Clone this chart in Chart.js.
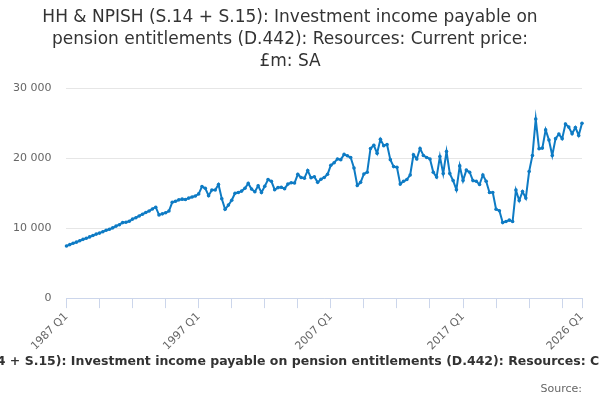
<!DOCTYPE html>
<html>
<head>
<meta charset="utf-8">
<script src="https://cdn.jsdelivr.net/npm/chart.js@4"></script>
<style>
html,body{margin:0;padding:0;background:#fff;}
#wrap{width:600px;height:400px;position:relative;}
</style>
</head>
<body>
<div id="wrap"><canvas id="c"></canvas></div>
<script>
const titleLines = ["HH & NPISH (S.14 + S.15): Investment income payable on", "pension entitlements (D.442): Resources: Current price:", "£m: SA"];
const axisTitle = "HH & NPISH (S.14 + S.15): Investment income payable on pension entitlements (D.442): Resources: Current price: £m: SA";
const sourceText = "Source:";
const startYear = 1987;
const endYear = 2026;
const yTicks = [0, 10000, 20000, 30000];
const values = [
  7450, 7650, 7850, 8000, 8200, 8400, 8550, 8750, 8950, 9150,
  9300, 9500, 9700, 9850, 10050, 10300, 10500, 10800, 10850, 11000,
  11300, 11500, 11750, 12000, 12250, 12450, 12750, 13000,
  11900, 12050, 12200, 12450, 13700, 13850, 14050, 14150, 14100, 14300, 14450, 14600, 14900,
  15950, 15700, 14650, 15450, 15450, 16250, 14200, 12700, 13300, 14000, 15000, 15100, 15300, 15700, 16400,
  15600, 15200, 16050, 15100, 16000, 16950, 16700, 15500, 15800, 15850, 15650, 16300, 16500, 16450,
  17700, 17250, 17150, 18250, 17200, 17350, 16550, 17000, 17250, 17700, 19000,
  19350, 19900, 19800, 20550, 20350, 20100, 18600, 16100, 16550, 17750, 18000,
  21400, 21850, 20700, 22700, 21800, 21950, 19800, 18800, 18700, 16300, 16700, 16950, 17600,
  20500, 19900, 21400, 20400, 20100, 19900, 18000, 17300, 20250, 17800, 20950, 17800, 16800, 15500, 18900, 16800,
  18300, 18000, 16800, 16700, 16250, 17600, 16700, 15100, 15100, 12700, 12500, 10800, 10950, 11150, 10950,
  15450, 13950, 15250, 14300, 18100, 20400, 25600, 21350, 21450, 24050, 22600, 20400, 22800, 23450, 22800, 24900, 24450, 23500, 24400, 23250, 25000
];
const labels = [];
for (let y = startYear; y <= endYear; y++) {
  for (let q = 1; q <= 4; q++) {
    if (labels.length < values.length) labels.push(y + " Q" + q);
  }
}
const lastIdx = values.length - 1;
const FONT = "'DejaVu Sans', Verdana, sans-serif";

const axisTitlePlugin = {
  id: 'axisTitleFull',
  afterDraw(chart) {
    const ctx = chart.ctx;
    const xs = chart.scales.x;
    ctx.save();
    ctx.font = "bold 12.5px " + FONT;
    ctx.fillStyle = '#333333';
    ctx.textAlign = 'center';
    ctx.textBaseline = 'middle';
    ctx.fillText(axisTitle, (chart.chartArea.left + chart.chartArea.right) / 2 - 13, xs.bottom + 7);
    ctx.restore();
  }
};

new Chart(document.getElementById('c'), {
  type: 'line',
  data: {
    labels: labels,
    datasets: [{
      data: values,
      borderColor: '#0e7bc4',
      backgroundColor: '#0e7bc4',
      borderWidth: 2,
      pointRadius: 1.8,
      pointBorderWidth: 0,
      pointHoverRadius: 3,
      tension: 0,
      fill: false
    }]
  },
  plugins: [axisTitlePlugin],
  options: {
    responsive: true,
    maintainAspectRatio: false,
    animation: false,
    layout: { padding: { left: -2, right: 18, top: 4, bottom: 4 } },
    plugins: {
      legend: { display: false },
      tooltip: { enabled: false },
      title: {
        display: true,
        text: titleLines,
        color: '#333333',
        font: { family: FONT, size: 17, weight: 'normal', lineHeight: 1.28 },
        padding: { top: 3, bottom: 16 }
      },
      subtitle: {
        display: true,
        position: 'bottom',
        align: 'end',
        text: sourceText,
        color: '#666666',
        font: { family: FONT, size: 11, weight: 'normal' },
        padding: { top: 28, bottom: 0 }
      }
    },
    scales: {
      x: {
        type: 'category',
        offset: false,
        border: { display: true, color: '#ccd6eb', width: 1 },
        grid: {
          drawOnChartArea: false,
          drawTicks: true,
          tickLength: 10,
          color: (ctx) => (ctx.index % 10 === 0 || ctx.index === lastIdx) ? '#ccd6eb' : 'rgba(0,0,0,0)'
        },
        ticks: {
          autoSkip: false,
          minRotation: 45,
          maxRotation: 45,
          color: '#666666',
          font: { family: FONT, size: 11 },
          padding: 2,
          callback: function (val, idx) {
            return (idx % 40 === 0 || idx === lastIdx) ? labels[idx] : '';
          }
        }
      },
      y: {
        min: 0,
        max: 30000,
        border: { display: false },
        grid: { color: '#e6e6e6', drawTicks: false },
        afterBuildTicks: (axis) => { axis.ticks = yTicks.map(v => ({ value: v })); },
        ticks: {
          color: '#666666',
          font: { family: FONT, size: 11 },
          padding: 15,
          callback: (v) => String(v).replace(/\B(?=(\d{3})+(?!\d))/g, ' ')
        }
      }
    }
  }
});
</script>
</body>
</html>
